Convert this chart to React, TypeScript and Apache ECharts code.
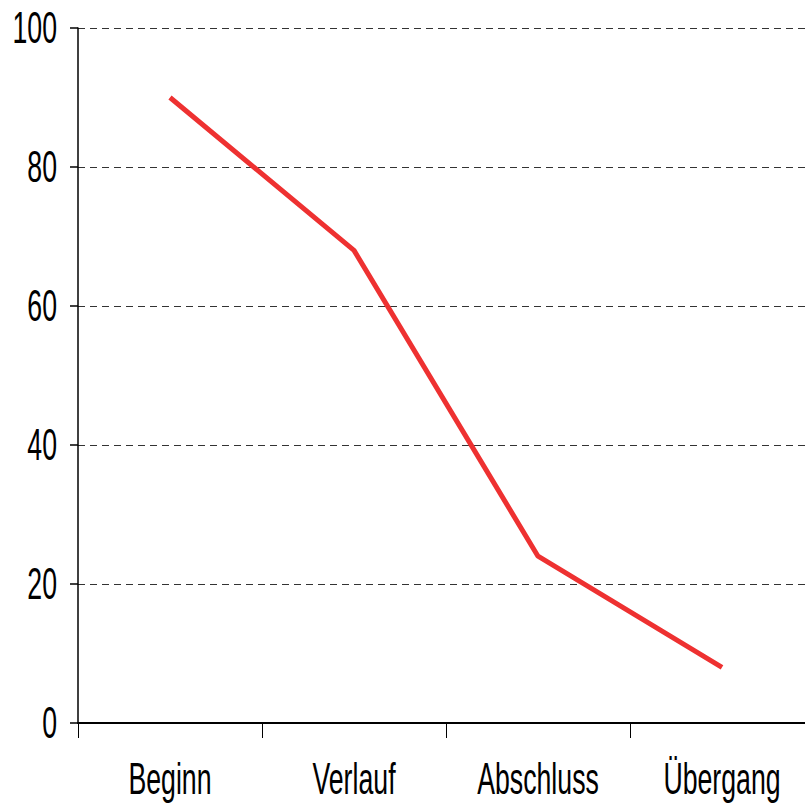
import React, { useEffect, useRef } from "react";
import * as echarts from "echarts";

const categories = ["Beginn", "Verlauf", "Abschluss", "Übergang"];
const values = [90, 68, 24, 8];
const yTicks = [0, 20, 40, 60, 80, 100];

export default function App() {
  const ref = useRef<HTMLDivElement>(null);
  useEffect(() => {
    if (!ref.current) return;
    const chart = echarts.init(ref.current, null, { renderer: "svg" });
    const fontFamily = "'Liberation Sans', Arial, sans-serif";
    const fontSize = 30;
    const sx = 0.89;
    const sy = 1.5;
    chart.setOption({
      animation: false,
      backgroundColor: "#ffffff",
      grid: {
        left: 78,
        top: 28,
        width: 736,
        height: 695,
        containLabel: false,
        outerBoundsMode: "none",
      },
      xAxis: {
        type: "category",
        data: categories,
        boundaryGap: true,
        axisLine: { lineStyle: { color: "#000", width: 2 } },
        axisTick: { show: true, interval: 0, length: 15, lineStyle: { color: "#000", width: 1 } },
        axisLabel: { show: false, interval: 0 },
        splitLine: { show: false },
      },
      yAxis: {
        type: "value",
        min: yTicks[0],
        max: yTicks[yTicks.length - 1],
        interval: 20,
        axisLine: { show: true, lineStyle: { color: "#000", width: 1.5 } },
        axisTick: { show: true, length: 8, lineStyle: { color: "#000", width: 1.5 } },
        axisLabel: { show: false },
        splitLine: { show: true, lineStyle: { color: "#333", width: 1, type: [7, 5] } },
      },
      series: [
        {
          type: "line",
          data: values,
          symbol: "none",
          lineStyle: { color: "#ee3131", width: 5 },
        },
      ],
    });

    const labelStyle = (text: string, align: string) => ({
      text,
      fill: "#000",
      font: `${fontSize}px ${fontFamily}`,
      fontSize,
      fontFamily,
      align,
      textAlign: align,
      verticalAlign: "middle",
      textVerticalAlign: "middle",
    });

    const xLabelY = 779;
    const yLabelX = 57;
    const graphics: any[] = [];
    categories.forEach((c) => {
      const px = chart.convertToPixel({ xAxisIndex: 0 }, c) as number;
      graphics.push({
        type: "text",
        x: px,
        y: xLabelY,
        scaleX: sx,
        scaleY: sy,
        style: labelStyle(c, "center"),
      });
    });
    yTicks.forEach((v) => {
      const py = chart.convertToPixel({ yAxisIndex: 0 }, v) as number;
      graphics.push({
        type: "text",
        x: yLabelX,
        y: py,
        scaleX: sx,
        scaleY: sy,
        style: labelStyle(String(v), "right"),
      });
    });
    chart.setOption({ graphic: graphics });

    return () => chart.dispose();
  }, []);
  return (
    <div
      ref={ref}
      style={{ position: "fixed", left: 0, top: 0, width: 805, height: 807 }}
    />
  );
}
